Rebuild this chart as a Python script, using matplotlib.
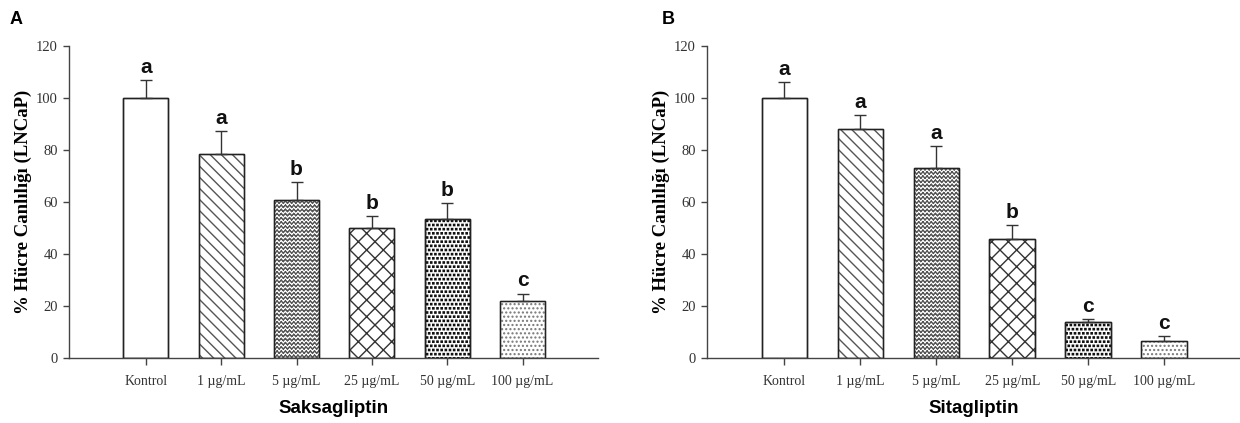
import numpy as np
import matplotlib
matplotlib.use("Agg")
import matplotlib.pyplot as plt
import matplotlib.hatch as mhatch
from matplotlib.path import Path

# veriler
groups = ["Kontrol", "1 µg/mL", "5 µg/mL", "25 µg/mL", "50 µg/mL", "100 µg/mL"]

saks_mean = [100.0, 78.5, 60.8, 50.0, 53.5, 21.9]
saks_err = [6.9, 8.8, 6.9, 4.6, 6.1, 2.9]
saks_letters = ["a", "a", "b", "b", "b", "c"]

sita_mean = [100.0, 88.1, 73.1, 45.8, 13.8, 6.5]
sita_err = [6.1, 5.4, 8.4, 5.4, 1.2, 1.8]
sita_letters = ["a", "a", "a", "b", "c", "c"]


# zikzak tarama ('*' yerine)
class ZigZagHatch(mhatch.HatchPatternBase):
    def __init__(self, hatch, density):
        self.num_rows = hatch.count('*') * density
        self.num_teeth = self.num_rows
        self.num_vertices = self.num_rows * self.num_teeth * 4

    def set_vertices_and_codes(self, vertices, codes):
        n = self.num_rows
        k = self.num_teeth
        amp = 0.25 / n
        xs = np.linspace(0, 1, 2 * k + 1)
        i = 0
        for r in range(n):
            y0 = (r + 0.5) / n
            ys = y0 + np.where(np.arange(2 * k + 1) % 2 == 0, -amp, amp)
            for j in range(2 * k):
                vertices[i] = (xs[j], ys[j])
                vertices[i + 1] = (xs[j + 1], ys[j + 1])
                codes[i] = Path.MOVETO
                codes[i + 1] = Path.LINETO
                i += 2


# dolu kare noktalar ('O' yerine)
class SquareDots(mhatch.Shapes):
    size = 0.3
    filled = True

    def __init__(self, hatch, density):
        self.num_rows = hatch.count('O') * density
        self.shape_vertices = np.array([[-1, -1], [1, -1], [1, 1], [-1, 1], [-1, -1]], float) * 0.5
        self.shape_codes = np.array([Path.MOVETO, Path.LINETO, Path.LINETO, Path.LINETO, Path.CLOSEPOLY],
                                    dtype=Path.code_type)
        super().__init__(hatch, density)


new_types = []
for t in mhatch._hatch_types:
    if t is mhatch.LargeCircles:
        new_types.append(SquareDots)
    elif t is mhatch.Stars:
        new_types.append(ZigZagHatch)
    else:
        new_types.append(t)
mhatch._hatch_types[:] = new_types

hatches = ["", "\\\\\\", "****", "xx", "OOOO", "...."]
hatch_cols = ["#222222", "#555555", "#555555", "#333333", "#111111", "#777777"]

plt.rcParams['hatch.linewidth'] = 1.0

fig = plt.figure(figsize=(12.4, 4.23), dpi=100)
axA = fig.add_axes([0.0556, 0.1537, 0.4266, 0.7375])
axB = fig.add_axes([0.5702, 0.1537, 0.4298, 0.7375])

serif = ["Liberation Serif", "DejaVu Serif"]
sans = ["Liberation Sans", "DejaVu Sans"]


def draw_panel(ax, means, errs, letters, xlabel):
    x = np.arange(len(groups))
    for i in range(len(groups)):
        ax.bar(x[i], means[i], width=0.6, color="white", edgecolor=hatch_cols[i],
               hatch=hatches[i], linewidth=1.0, zorder=2)
        ax.bar(x[i], means[i], width=0.6, color="none", edgecolor="#222222",
               linewidth=1.0, zorder=3)
    ax.errorbar(x, means, yerr=[np.zeros(len(errs)), errs], fmt="none",
                ecolor="#333333", elinewidth=1.0, capsize=4, capthick=1.0, zorder=4)
    for i in range(len(groups)):
        ax.text(x[i], means[i] + errs[i] + 1.3, letters[i], ha="center", va="bottom",
                fontsize=15, fontweight="bold", family=sans, color="#111111")

    ax.set_xlim(-1.02, 6.0)
    ax.set_ylim(0, 120)
    ax.set_yticks(range(0, 121, 20))
    ax.set_xticks(x)
    ax.set_xticklabels(groups)
    for s in ["top", "right"]:
        ax.spines[s].set_visible(False)
    for s in ["left", "bottom"]:
        ax.spines[s].set_color("#444444")
        ax.spines[s].set_linewidth(1.0)
    ax.tick_params(axis="y", direction="out", length=4, width=1, color="#444444",
                   labelsize=10.5, labelcolor="#333333", pad=4)
    ax.tick_params(axis="x", direction="out", length=5, width=1, color="#444444",
                   labelsize=10, labelcolor="#333333", pad=7)
    for lab in ax.get_xticklabels() + ax.get_yticklabels():
        lab.set_family(serif)
    ax.set_ylabel("% Hücre Canlılığı (LNCaP)", family=serif, fontweight="bold",
                  fontsize=13.5, labelpad=3)
    ax.set_xlabel(xlabel, family=sans, fontweight="bold", fontsize=13.5, labelpad=9)


draw_panel(axA, saks_mean, saks_err, saks_letters, "Saksagliptin")
draw_panel(axB, sita_mean, sita_err, sita_letters, "Sitagliptin")

fig.text(0.008, 0.955, "A", family=sans, fontweight="bold", fontsize=13, va="center")
fig.text(0.534, 0.955, "B", family=sans, fontweight="bold", fontsize=13, va="center")

fig.savefig("out.png", dpi=100)
